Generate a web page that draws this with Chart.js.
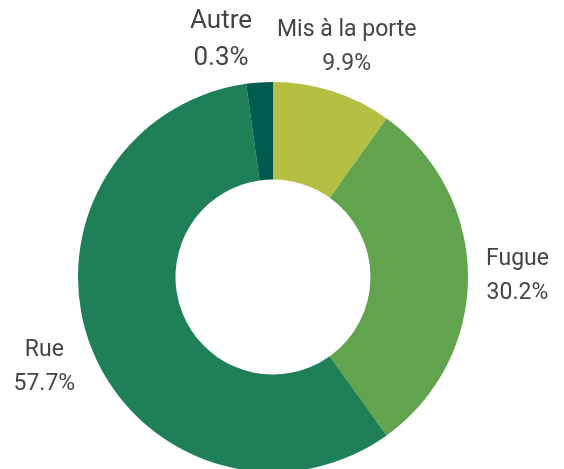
<!DOCTYPE html>
<html lang="fr">
<head>
<meta charset="utf-8">
<script src="https://cdn.jsdelivr.net/npm/chart.js@4.4.1/dist/chart.umd.min.js"></script>
<style>
  html, body { margin: 0; padding: 0; background: #fff; overflow: hidden; }
  #wrap { width: 564px; height: 472px; }
  canvas { display: block; }
</style>
</head>
<body>
<div id="wrap"><canvas id="chartSituation" width="564" height="472"></canvas></div>
<script>
const categories = ['Mis à la porte', 'Fugue', 'Rue', 'Autre'];
const valeurs = [9.9, 30.2, 57.7, 2.2];
// pourcentages affichés sous chaque nom
const etiquettes = ['9.9%', '30.2%', '57.7%', '0.3%'];
const couleurs = ['#b5bf42', '#62a34e', '#1f7f56', '#005a4d'];

// noms + pourcentages autour de l'anneau
const etiquettesExterieures = {
    id: 'etiquettesExterieures',
    afterDatasetsDraw(chart, args, opts) {
        const ctx = chart.ctx;
        const meta = chart.getDatasetMeta(0);
        const ecart = 18, marge = 25;

        ctx.save();
        ctx.fillStyle = '#444';
        ctx.textAlign = 'center';
        ctx.textBaseline = 'middle';

        const blocs = meta.data.map((arc, i) => {
            const taille = opts.tailles[i];
            const hauteur = taille * 2.3;
            ctx.font = taille + 'px Roboto';
            const p = arc.getProps(['x', 'y', 'startAngle', 'endAngle', 'outerRadius'], true);
            const a = (p.startAngle + p.endAngle) / 2;
            const cos = Math.cos(a), sin = Math.sin(a);
            const w = Math.max(ctx.measureText(categories[i]).width, ctx.measureText(etiquettes[i]).width);
            const px = Math.abs(cos) > 1e-6 ? (w / 2) / Math.abs(cos) : Infinity;
            const py = Math.abs(sin) > 1e-6 ? (hauteur / 2) / Math.abs(sin) : Infinity;
            const R = p.outerRadius + ecart;
            const r = R + Math.min(px, py);
            return { i, w, hauteur, taille, sin, R, cx: p.x, cy: p.y, x: p.x + cos * r, y: p.y + sin * r };
        });

        // écarter les blocs qui se chevauchent, puis les rapprocher de l'anneau
        for (let j = 1; j < blocs.length; j++) {
            for (let k = 0; k < j; k++) {
                const b = blocs[j], o = blocs[k];
                const minX = (b.w + o.w) / 2 + marge;
                if (Math.abs(b.y - o.y) < (b.hauteur + o.hauteur) / 2 && Math.abs(b.x - o.x) < minX) {
                    b.x = b.x < o.x ? o.x - minX : o.x + minX;
                    const dx = Math.min(Math.abs(b.x - b.cx), b.R);
                    b.y = b.cy + Math.sign(b.sin) * (Math.sqrt(b.R * b.R - dx * dx) + b.hauteur / 2);
                }
            }
        }

        blocs.forEach(b => {
            const interligne = b.taille + 11;
            ctx.font = b.taille + 'px Roboto';
            ctx.fillText(categories[b.i], b.x, b.y - 1 - interligne / 2);
            ctx.fillText(etiquettes[b.i], b.x, b.y - 1 + interligne / 2);
        });
        ctx.restore();
    }
};

new Chart(document.getElementById('chartSituation'), {
    type: 'doughnut',
    data: {
        labels: categories,
        datasets: [{
            data: valeurs,
            backgroundColor: couleurs,
            borderWidth: 0, hoverOffset: 0, offset: 0
        }]
    },
    options: {
        responsive: false, animation: false, events: [],
        cutout: '50%',
        layout: { padding: { left: 78, right: 96, top: 82, bottom: 0 } },
        plugins: {
            legend: { display: false },
            tooltip: { enabled: false },
            etiquettesExterieures: { tailles: [23, 23, 23, 26] }
        }
    },
    plugins: [etiquettesExterieures]
});
</script>
</body>
</html>
